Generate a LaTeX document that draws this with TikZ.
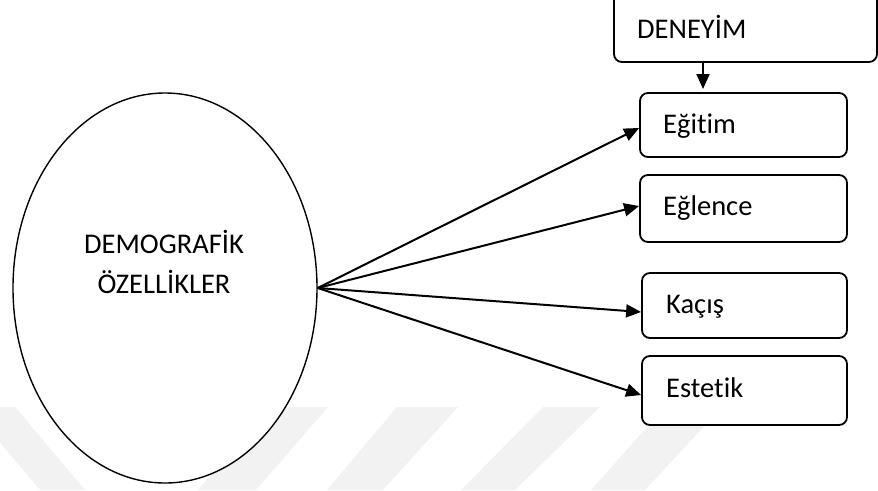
\documentclass[tikz,border=0pt]{standalone}
\usepackage{fontspec}
\setmainfont{Carlito}[Ligatures={NoCommon}]
\usetikzlibrary{arrows.meta,shapes.geometric,calc}
\begin{document}
\begin{tikzpicture}[x=1pt,y=-1pt,
  box/.style={draw, line width=1.8pt, rounded corners=8pt, fill=white, inner sep=0},
  lbl/.style={anchor=base west, font=\fontsize{28.5}{40}\selectfont, inner sep=0},
  ctext/.style={anchor=base, font=\fontsize{28.5}{40}\selectfont, inner sep=0},
  arr/.style={line width=2pt, -{Triangle[length=15pt,width=13pt]}},
  wm/.style={fill=black!5, draw=none}]
\useasboundingbox (0,0) rectangle (878,490);
% faint watermark bands
\fill[wm] (-30,407) -- (15,407) -- (85,490) -- (40,490) -- cycle;
\fill[wm] (270,407) -- (328,407) -- (256,490) -- (198,490) -- cycle;
\fill[wm] (397,407) -- (458,407) -- (383,490) -- (327,490) -- cycle;
\fill[wm] (543,407) -- (600,407) -- (515,490) -- (461,490) -- cycle;
\fill[wm] (665,407) -- (722,407) -- (645,490) -- (591,490) -- cycle;
% ellipse
\node[ellipse, draw, line width=1.4pt, fill=white, minimum width=304pt, minimum height=390pt, inner sep=0] (demo) at (165,288) {};
\node[ctext] (demo1) at (164,253) {DEMOGRAFİK};
\node[ctext] (demo2) at (164,293) {ÖZELLİKLER};
% boxes
\node[box, minimum width=263pt, minimum height=82pt] (deneyim) at (745.5,21) {};
\node[box, minimum width=207pt, minimum height=64pt] (egitim) at (743.5,125) {};
\node[box, minimum width=207pt, minimum height=67pt] (eglence) at (743.5,208.5) {};
\node[box, minimum width=205pt, minimum height=65pt] (kacis) at (744.5,305.5) {};
\node[box, minimum width=205pt, minimum height=69pt] (estetik) at (744.5,390.5) {};
\node[lbl] (tdeneyim) at (637,38) {DENEYİM};
\node[lbl] (tegitim) at (663,133) {Eğitim};
\node[lbl] (teglence) at (663,215) {Eğlence};
\node[lbl] (tkacis) at (666,313) {Kaçış};
\node[lbl] (testetik) at (666,397) {Estetik};
% arrows
\coordinate (dtip) at (703,89);
\draw[arr] (deneyim.south -| dtip) -- (dtip);
\draw[arr] (demo.east) -- ([yshift=-3pt]egitim.west);
\draw[arr] (demo.east) -- ([yshift=2.5pt]eglence.west);
\draw[arr] (demo.east) -- ([yshift=-6.5pt]kacis.west);
\draw[arr] (demo.east) -- ([yshift=-4.5pt]estetik.west);
\end{tikzpicture}
\end{document}
